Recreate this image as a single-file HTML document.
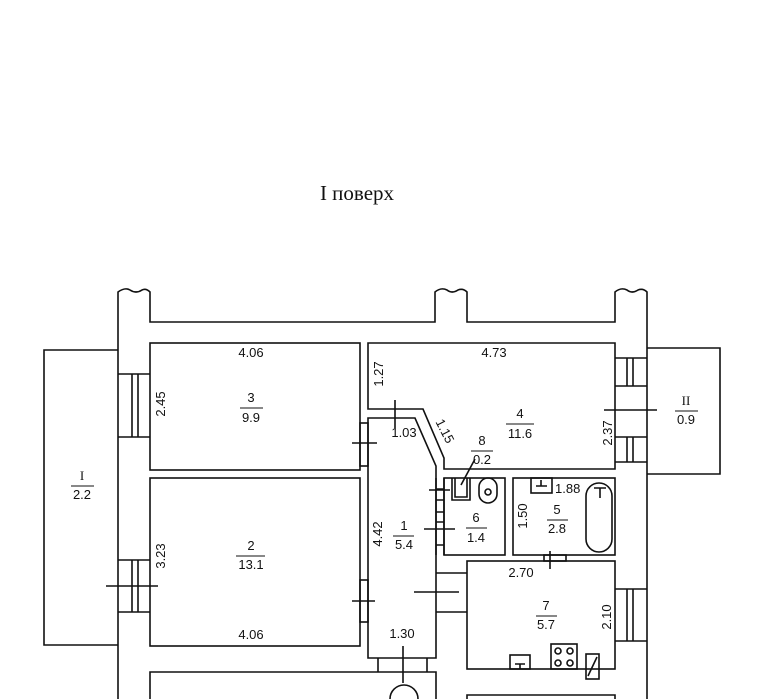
<!DOCTYPE html>
<html><head><meta charset="utf-8"><style>
html,body{margin:0;padding:0;background:#fff}
svg{display:block}
text{font-family:"Liberation Sans",sans-serif;font-size:13px;fill:#111}
</style></head><body>
<svg width="760" height="699" viewBox="0 0 760 699" xmlns="http://www.w3.org/2000/svg">
<text x="357" y="200" text-anchor="middle" style="font-family:'Liberation Serif',serif;font-size:21px">I поверх</text>
<g fill="none" stroke="#111" stroke-width="1.6">
<path d="M118,699 V292 Q125,287 130,290 Q136,294 142,290 Q146,288 150,292 V322 H435 V292 Q441,287 447,290 Q452,294 458,290 Q463,288 467,292 V322 H615 V292 Q621,287 627,290 Q632,294 638,290 Q643,288 647,292 V699"/>
<path d="M118,350 H44 V645 H118"/>
<path d="M647,348 H720 V474 H647"/>
<rect x="150" y="343" width="210" height="127"/>
<rect x="150" y="478" width="210" height="168"/>
<path d="M368,343 H615 V469 H444 V458 L423,409 H368 Z"/>
<path d="M368,418 H415 L436,466 V658 H368 Z"/>
<rect x="444" y="478" width="61" height="77"/>
<path d="M452,478 V500 H470 V478 M455,478 V497 H467 V478"/>
<rect x="479" y="478" width="18" height="25" rx="9"/>
<circle cx="488" cy="492" r="3"/>
<rect x="513" y="478" width="102" height="77"/>
<rect x="531" y="478" width="21" height="15"/>
<path d="M536,486 H547 M541,486 V480"/>
<rect x="586" y="483" width="26" height="69" rx="13"/>
<path d="M594,488 H606 M600,488 V498"/>
<rect x="467" y="561" width="148" height="108"/>
<rect x="510" y="655" width="20" height="14"/>
<path d="M515,664 H525 M520,664 V669"/>
<rect x="551" y="644" width="26" height="25"/>
<circle cx="558" cy="651" r="3"/><circle cx="570" cy="651" r="3"/>
<circle cx="558" cy="663" r="3"/><circle cx="570" cy="663" r="3"/>
<rect x="586" y="654" width="13" height="25"/>
<path d="M588,676 L597,657"/>
<path d="M150,699 V672 H436 V699"/>
<path d="M467,699 V695 H615 V699"/>
<circle cx="404" cy="699" r="14"/>
<path d="M118,374 H150 M118,437 H150 M132,374 V437 M138,374 V437"/>
<path d="M118,560 H150 M118,612 H150 M132,560 V612 M138,560 V612"/>
<path d="M615,358 H647 M615,386 H647 M627,358 V386 M633,358 V386"/>
<path d="M615,437 H647 M615,462 H647 M627,437 V462 M633,437 V462"/>
<path d="M615,589 H647 M615,641 H647 M627,589 V641 M633,589 V641"/>
<rect x="360" y="423" width="8" height="43"/>
<rect x="360" y="580" width="8" height="42"/>
<path d="M436,478 V555 M444,478 V555 M436,489 H444 M436,500 H444 M436,512 H444 M436,522 H444 M436,545 H444"/>
<rect x="544" y="555" width="22" height="6"/>
<path d="M436,573 H467 M436,612 H467"/>
<path d="M378,658 V672 M427,658 V672"/>
<path d="M352,443 H377 M395,400 V428 M429,490 H450 M424,529 H455 M414,592 H459 M106,586 H158 M352,601 H375 M403,646 V683 M550,551 V569 M604,410 H657"/>
<path d="M461,485 L475,459"/>
</g>
<text x="251" y="357" text-anchor="middle">4.06</text>
<text x="251" y="402" text-anchor="middle">3</text>
<line x1="240" y1="408" x2="263" y2="408" stroke="#111"/>
<text x="251" y="422" text-anchor="middle">9.9</text>
<text transform="translate(165,404) rotate(-90)" text-anchor="middle">2.45</text>
<text x="251" y="550" text-anchor="middle">2</text>
<line x1="236" y1="556" x2="265" y2="556" stroke="#111"/>
<text x="251" y="569" text-anchor="middle">13.1</text>
<text transform="translate(165,556) rotate(-90)" text-anchor="middle">3.23</text>
<text x="251" y="639" text-anchor="middle">4.06</text>
<text x="494" y="357" text-anchor="middle">4.73</text>
<text transform="translate(383,374) rotate(-90)" text-anchor="middle">1.27</text>
<text x="404" y="437" text-anchor="middle">1.03</text>
<text transform="translate(441,433) rotate(63)" text-anchor="middle">1.15</text>
<text x="520" y="418" text-anchor="middle">4</text>
<line x1="506" y1="424" x2="534" y2="424" stroke="#111"/>
<text x="520" y="438" text-anchor="middle">11.6</text>
<text transform="translate(612,433) rotate(-90)" text-anchor="middle">2.37</text>
<text x="686" y="405" text-anchor="middle" style="font-family:'Liberation Serif',serif">II</text>
<line x1="675" y1="411" x2="698" y2="411" stroke="#111"/>
<text x="686" y="424" text-anchor="middle">0.9</text>
<text x="82" y="480" text-anchor="middle" style="font-family:'Liberation Serif',serif">I</text>
<line x1="71" y1="486" x2="94" y2="486" stroke="#111"/>
<text x="82" y="499" text-anchor="middle">2.2</text>
<text x="482" y="445" text-anchor="middle">8</text>
<line x1="471" y1="451" x2="493" y2="451" stroke="#111"/>
<text x="482" y="464" text-anchor="middle">0.2</text>
<text x="476" y="522" text-anchor="middle">6</text>
<line x1="466" y1="528" x2="487" y2="528" stroke="#111"/>
<text x="476" y="542" text-anchor="middle">1.4</text>
<text x="555" y="493" text-anchor="start">1.88</text>
<text x="557" y="514" text-anchor="middle">5</text>
<line x1="547" y1="520" x2="568" y2="520" stroke="#111"/>
<text x="557" y="533" text-anchor="middle">2.8</text>
<text transform="translate(527,516) rotate(-90)" text-anchor="middle">1.50</text>
<text x="404" y="530" text-anchor="middle">1</text>
<line x1="393" y1="536" x2="414" y2="536" stroke="#111"/>
<text x="404" y="549" text-anchor="middle">5.4</text>
<text transform="translate(382,534) rotate(-90)" text-anchor="middle">4.42</text>
<text x="402" y="638" text-anchor="middle">1.30</text>
<text x="521" y="577" text-anchor="middle">2.70</text>
<text x="546" y="610" text-anchor="middle">7</text>
<line x1="536" y1="616" x2="557" y2="616" stroke="#111"/>
<text x="546" y="629" text-anchor="middle">5.7</text>
<text transform="translate(611,617) rotate(-90)" text-anchor="middle">2.10</text>
</svg>
</body></html>
